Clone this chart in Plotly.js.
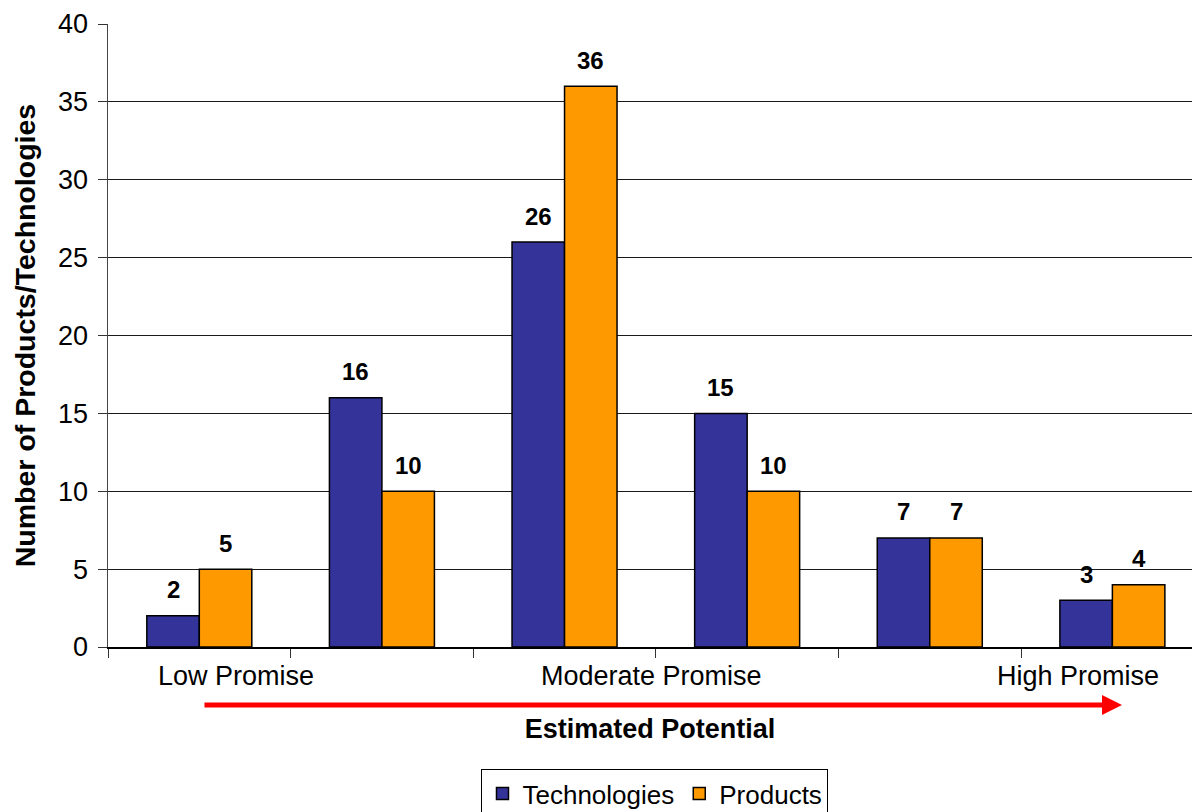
<!DOCTYPE html>
<html>
<head>
<meta charset="utf-8">
<script src="https://cdn.plot.ly/plotly-3.0.1.min.js"></script>
<style>html,body{margin:0;padding:0;background:#fff;}#chart{width:1192px;height:812px;}</style>
</head>
<body>
<div id="chart"></div>
<script>
// ---- data ----
const categories = [1, 2, 3, 4, 5, 6];
const technologies = [2, 16, 26, 15, 7, 3];
const products = [5, 10, 36, 10, 7, 4];
const seriesNames = ["Technologies", "Products"];
const scaleLabels = ["Low Promise", "Moderate Promise", "High Promise"];
const yTicks = [0, 5, 10, 15, 20, 25, 30, 35, 40];

// ---- style ----
const FONT = "Liberation Sans, Arial, sans-serif";
const colors = ["#333399", "#FF9900"];
const bargap = 0.425;
const barHalf = (1 - bargap) / 4; // half width of one bar in category units

const traces = [technologies, products].map((vals, k) => ({
  type: "bar",
  name: seriesNames[k],
  x: categories,
  y: vals,
  marker: { color: colors[k], line: { color: "#000", width: 1.5 } },
  hoverinfo: "skip"
}));

const annotations = [];
[technologies, products].forEach((vals, k) => {
  vals.forEach((v, i) => {
    annotations.push({
      xref: "x", yref: "y",
      x: categories[i] + (k === 0 ? -barHalf : barHalf),
      y: v, text: "<b>" + v + "</b>", showarrow: false,
      yanchor: "middle", yshift: 26,
      font: { family: FONT, size: 24, color: "#000" }
    });
  });
});

// scale labels under the axis
const labelPos = [0.1185, 0.5015, 0.8945];
scaleLabels.forEach((t, i) => annotations.push({
  xref: "paper", yref: "paper", x: labelPos[i], y: -0.0465,
  text: t, showarrow: false, xanchor: "center", yanchor: "middle",
  font: { family: FONT, size: 27, color: "#000" }
}));

// red arrow
annotations.push({
  xref: "paper", yref: "paper", x: 0.9354, y: -0.0931,
  ax: -919, ay: 0, text: "", showarrow: true,
  arrowcolor: "#FF0000", arrowwidth: 5, arrowhead: 2, arrowsize: 0.8, standoff: 0
});

const boundaries = categories.map(c => c - 0.5).concat([categories[categories.length - 1] + 0.5]);

const layout = {
  width: 1192, height: 812,
  margin: { l: 108, r: 0, t: 24, b: 165, pad: 0, autoexpand: false },
  paper_bgcolor: "#fff", plot_bgcolor: "#fff",
  barmode: "group", bargap: bargap, bargroupgap: 0,
  showlegend: true,
  font: { family: FONT, color: "#000" },
  xaxis: {
    range: [0.5, 6.436], automargin: false,
    tickmode: "array", tickvals: boundaries, ticktext: boundaries.map(() => ""),
    ticks: "outside", ticklen: 9, tickcolor: "#333", tickwidth: 1,
    showgrid: false, zeroline: false,
    showline: true, linecolor: "#000", linewidth: 1.5,
    title: { text: "<b>Estimated Potential</b>", font: { family: FONT, size: 27, color: "#000" }, standoff: 60 }
  },
  yaxis: {
    range: [0, 40], tickmode: "array", tickvals: yTicks, automargin: false,
    ticks: "outside", ticklen: 9, tickcolor: "#333",
    tickfont: { family: FONT, size: 27, color: "#000" },
    ticklabelstandoff: 4,
    showgrid: true, gridcolor: "#1a1a1a", gridwidth: 1,
    zeroline: false, showline: true, linecolor: "#444", linewidth: 1.5,
    title: { text: "<b>Number of Products/Technologies</b>", font: { family: FONT, size: 28.5, color: "#000" }, standoff: 14 }
  },
  legend: {
    orientation: "h", x: 0.5046, xanchor: "center", y: -0.196, yanchor: "top",
    bordercolor: "#000", borderwidth: 1, bgcolor: "#fff",
    font: { family: FONT, size: 26, color: "#000" },
    itemwidth: 30, traceorder: "normal", tracegroupgap: 0
  },
  annotations: annotations
};

Plotly.newPlot("chart", traces, layout, { staticPlot: true, displayModeBar: false });
</script>
</body>
</html>
